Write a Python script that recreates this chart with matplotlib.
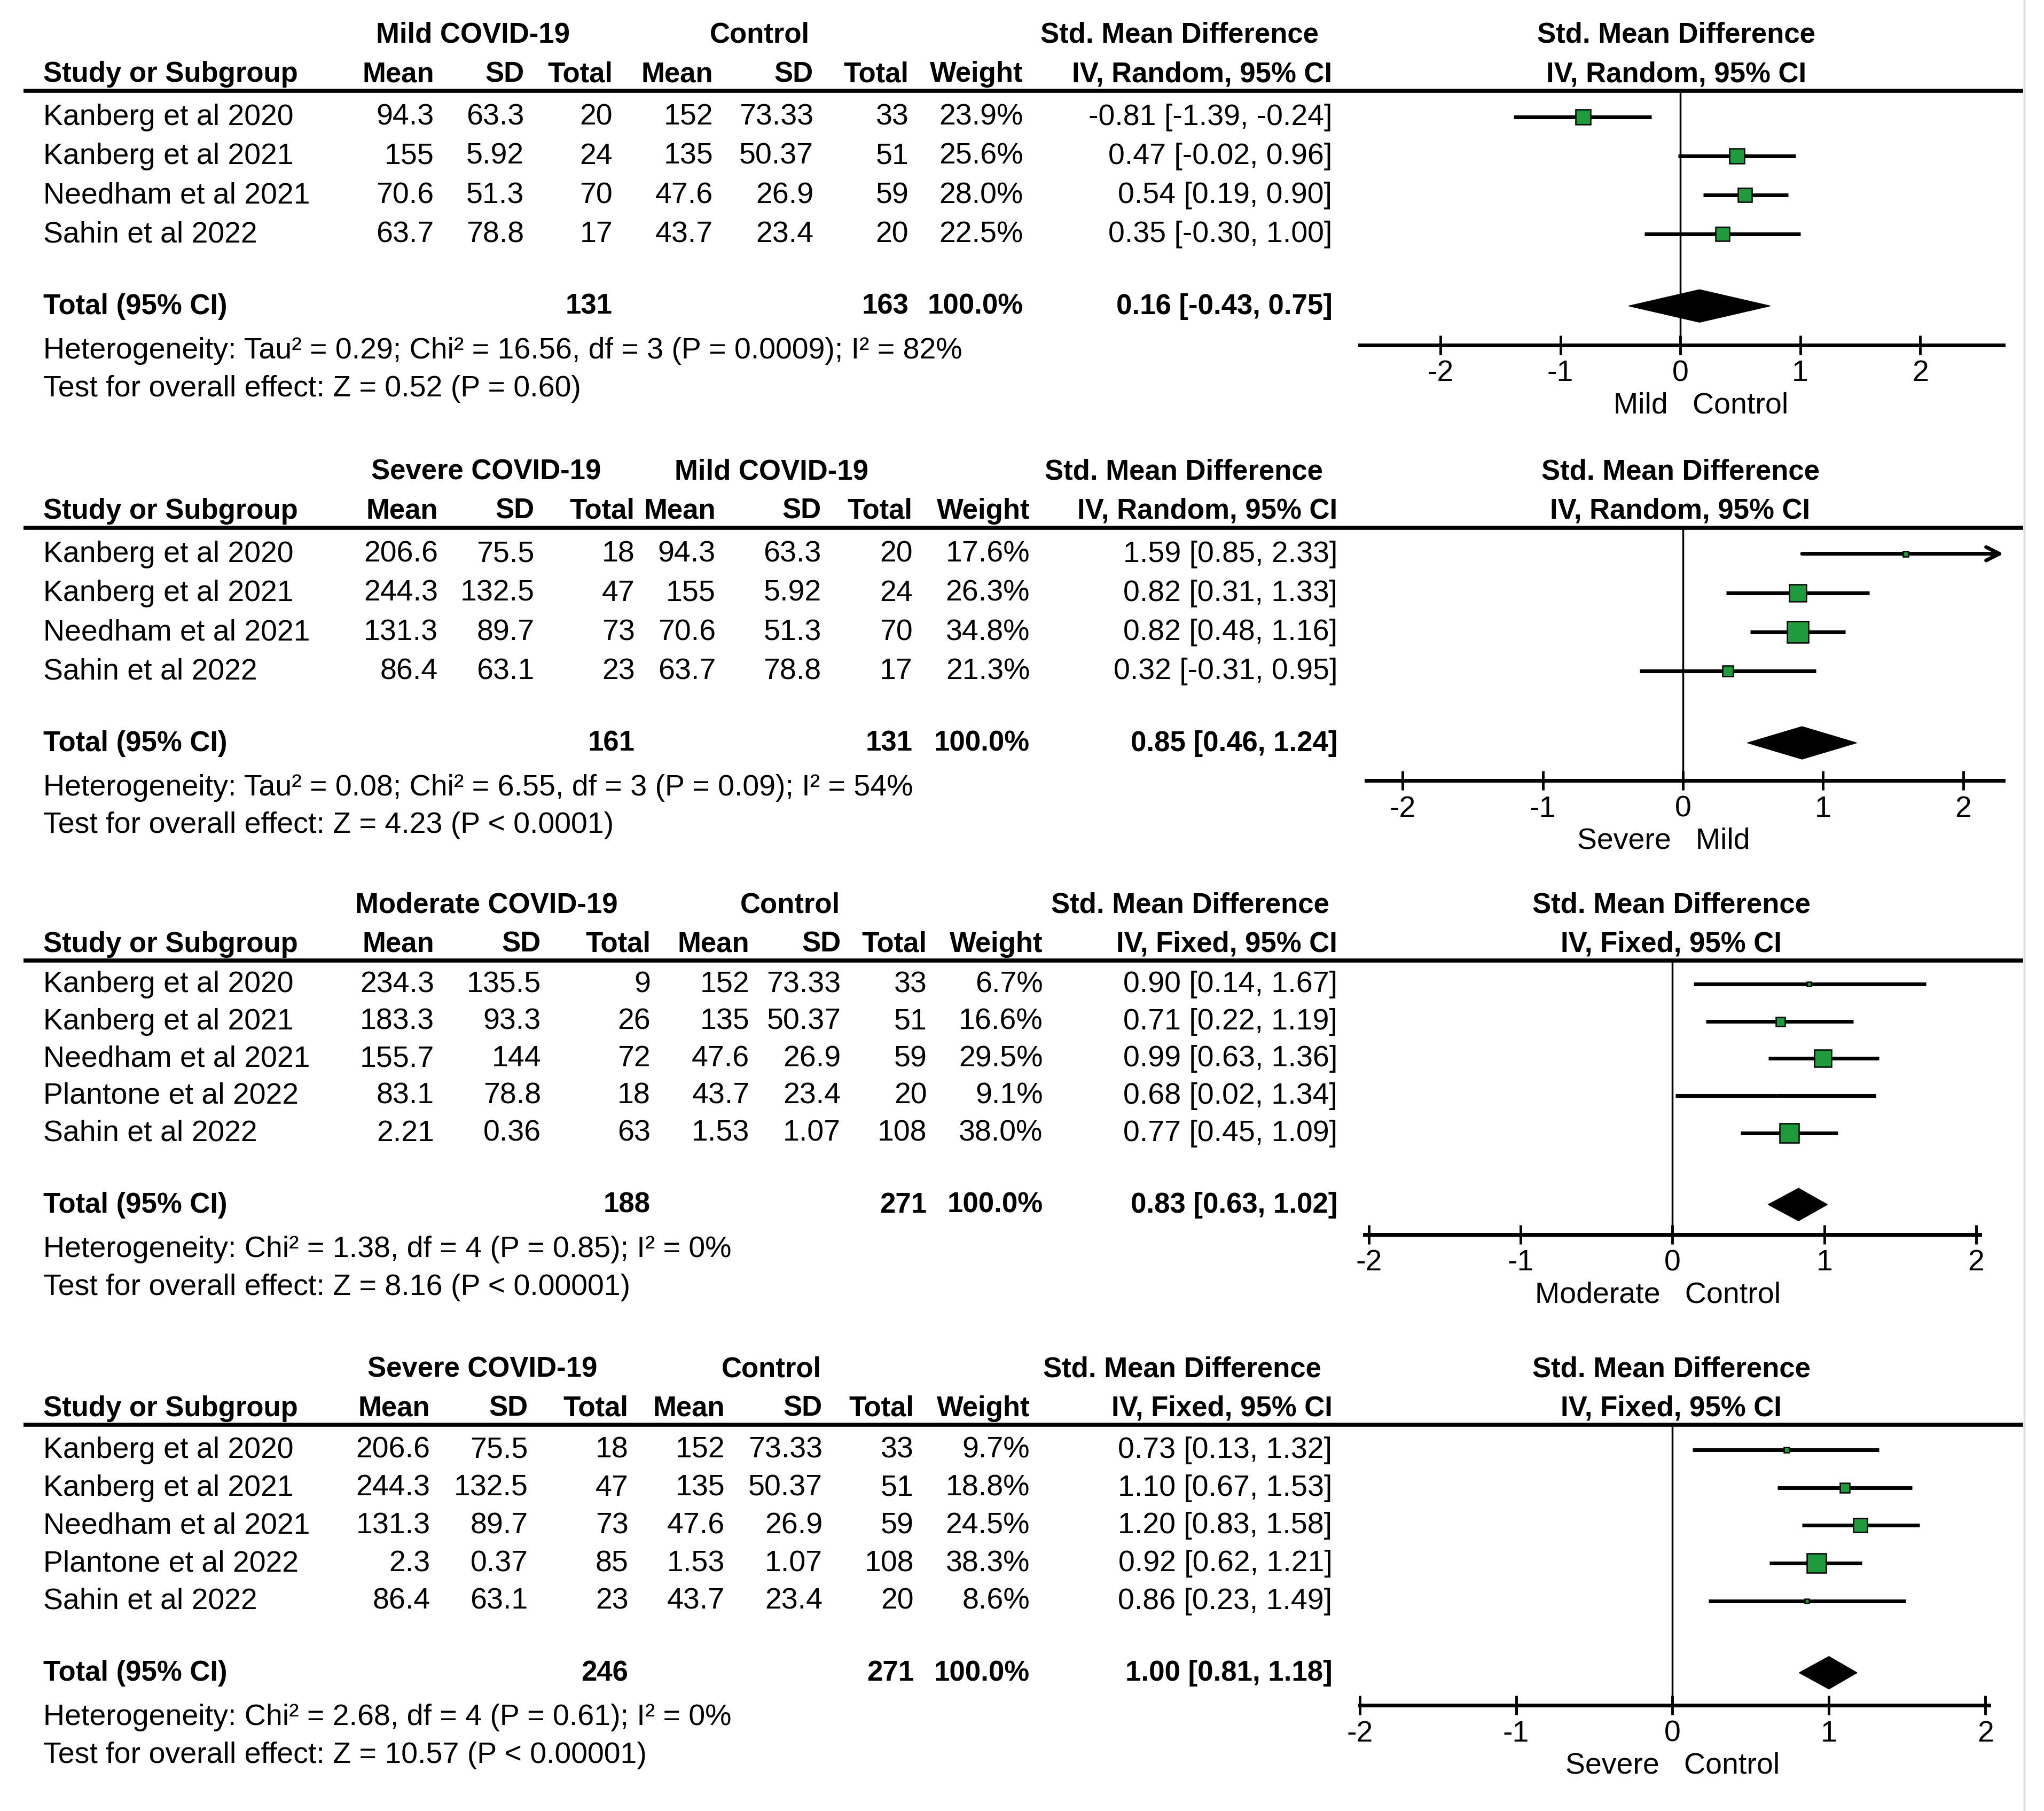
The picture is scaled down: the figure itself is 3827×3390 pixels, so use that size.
import matplotlib
matplotlib.use('Agg')
import matplotlib.pyplot as plt

plt.rcParams['font.family'] = ['Liberation Sans', 'DejaVu Sans']
plt.rcParams['axes.unicode_minus'] = False

W, H = 3827, 3391

# ---------------- data ----------------
# panel 1: mild vs control
p1_study = ['Kanberg et al 2020', 'Kanberg et al 2021', 'Needham et al 2021', 'Sahin et al 2022']
p1_mean_e = [94.3, 155, 70.6, 63.7]
p1_sd_e = [63.3, 5.92, 51.3, 78.8]
p1_n_e = [20, 24, 70, 17]
p1_mean_c = [152, 135, 47.6, 43.7]
p1_sd_c = [73.33, 50.37, 26.9, 23.4]
p1_n_c = [33, 51, 59, 20]
p1_weight = [23.9, 25.6, 28.0, 22.5]
p1_smd = [-0.81, 0.47, 0.54, 0.35]
p1_lo = [-1.39, -0.02, 0.19, -0.30]
p1_hi = [-0.24, 0.96, 0.90, 1.00]
p1_total = [131, 163]
p1_pooled = [0.16, -0.43, 0.75]
p1_groups = ['Mild COVID-19', 'Control']
p1_method = 'Random'
p1_favours = ['Mild', 'Control']
p1_het = 'Heterogeneity: Tau² = 0.29; Chi² = 16.56, df = 3 (P = 0.0009); I² = 82%'
p1_test = 'Test for overall effect: Z = 0.52 (P = 0.60)'

# panel 2: severe vs mild
p2_study = ['Kanberg et al 2020', 'Kanberg et al 2021', 'Needham et al 2021', 'Sahin et al 2022']
p2_mean_e = [206.6, 244.3, 131.3, 86.4]
p2_sd_e = [75.5, 132.5, 89.7, 63.1]
p2_n_e = [18, 47, 73, 23]
p2_mean_c = [94.3, 155, 70.6, 63.7]
p2_sd_c = [63.3, 5.92, 51.3, 78.8]
p2_n_c = [20, 24, 70, 17]
p2_weight = [17.6, 26.3, 34.8, 21.3]
p2_smd = [1.59, 0.82, 0.82, 0.32]
p2_lo = [0.85, 0.31, 0.48, -0.31]
p2_hi = [2.33, 1.33, 1.16, 0.95]
p2_total = [161, 131]
p2_pooled = [0.85, 0.46, 1.24]
p2_groups = ['Severe COVID-19', 'Mild COVID-19']
p2_method = 'Random'
p2_favours = ['Severe', 'Mild']
p2_het = 'Heterogeneity: Tau² = 0.08; Chi² = 6.55, df = 3 (P = 0.09); I² = 54%'
p2_test = 'Test for overall effect: Z = 4.23 (P < 0.0001)'

# panel 3: moderate vs control
p3_study = ['Kanberg et al 2020', 'Kanberg et al 2021', 'Needham et al 2021', 'Plantone et al 2022', 'Sahin et al 2022']
p3_mean_e = [234.3, 183.3, 155.7, 83.1, 2.21]
p3_sd_e = [135.5, 93.3, 144, 78.8, 0.36]
p3_n_e = [9, 26, 72, 18, 63]
p3_mean_c = [152, 135, 47.6, 43.7, 1.53]
p3_sd_c = [73.33, 50.37, 26.9, 23.4, 1.07]
p3_n_c = [33, 51, 59, 20, 108]
p3_weight = [6.7, 16.6, 29.5, 9.1, 38.0]
p3_smd = [0.90, 0.71, 0.99, 0.68, 0.77]
p3_lo = [0.14, 0.22, 0.63, 0.02, 0.45]
p3_hi = [1.67, 1.19, 1.36, 1.34, 1.09]
p3_total = [188, 271]
p3_pooled = [0.83, 0.63, 1.02]
p3_groups = ['Moderate COVID-19', 'Control']
p3_method = 'Fixed'
p3_favours = ['Moderate', 'Control']
p3_het = 'Heterogeneity: Chi² = 1.38, df = 4 (P = 0.85); I² = 0%'
p3_test = 'Test for overall effect: Z = 8.16 (P < 0.00001)'

# panel 4: severe vs control
p4_study = ['Kanberg et al 2020', 'Kanberg et al 2021', 'Needham et al 2021', 'Plantone et al 2022', 'Sahin et al 2022']
p4_mean_e = [206.6, 244.3, 131.3, 2.3, 86.4]
p4_sd_e = [75.5, 132.5, 89.7, 0.37, 63.1]
p4_n_e = [18, 47, 73, 85, 23]
p4_mean_c = [152, 135, 47.6, 1.53, 43.7]
p4_sd_c = [73.33, 50.37, 26.9, 1.07, 23.4]
p4_n_c = [33, 51, 59, 108, 20]
p4_weight = [9.7, 18.8, 24.5, 38.3, 8.6]
p4_smd = [0.73, 1.10, 1.20, 0.92, 0.86]
p4_lo = [0.13, 0.67, 0.83, 0.62, 0.23]
p4_hi = [1.32, 1.53, 1.58, 1.21, 1.49]
p4_total = [246, 271]
p4_pooled = [1.00, 0.81, 1.18]
p4_groups = ['Severe COVID-19', 'Control']
p4_method = 'Fixed'
p4_favours = ['Severe', 'Control']
p4_het = 'Heterogeneity: Chi² = 2.68, df = 4 (P = 0.61); I² = 0%'
p4_test = 'Test for overall effect: Z = 10.57 (P < 0.00001)'

# ---------------- layout (in 1568x1389 reference units) ----------------
layouts = [
    dict(line=70, first=20, pitch=30, axis=265, cols=[333, 402, 470, 547, 624, 697, 785, 1022],
         grp=[363, 583, 905], rhead=1286, ax0=1043, ax1=1537, zero=1289, unit=92, label_x=1305,
         msize=[28, 28, 26, 26]),
    dict(line=405, first=20, pitch=30, axis=599, cols=[336, 410, 487, 549, 630, 700, 790, 1026],
         grp=[373, 592, 908], rhead=1289, ax0=1048, ax1=1537, zero=1291, unit=107.5, label_x=1276,
         msize=[10, 32, 40, 20]),
    dict(line=737, first=18, pitch=28.5, axis=947, cols=[333, 415, 499, 575, 645, 711, 800, 1026],
         grp=[373, 606, 913], rhead=1282, ax0=1047, ax1=1519, zero=1283, unit=116.5, label_x=1272,
         msize=[8, 17, 32, 5, 36]),
    dict(line=1093, first=19, pitch=29, axis=1308, cols=[330, 405, 482, 556, 631, 701, 790, 1022],
         grp=[370, 592, 907], rhead=1282, ax0=1043, ax1=1526, zero=1283, unit=120, label_x=1283,
         msize=[10, 18, 26, 36, 8]),
]

panels = []
for i in range(1, 5):
    g = globals()
    panels.append(dict(study=g['p%d_study' % i], mean_e=g['p%d_mean_e' % i], sd_e=g['p%d_sd_e' % i],
                       n_e=g['p%d_n_e' % i], mean_c=g['p%d_mean_c' % i], sd_c=g['p%d_sd_c' % i],
                       n_c=g['p%d_n_c' % i], weight=g['p%d_weight' % i], smd=g['p%d_smd' % i],
                       lo=g['p%d_lo' % i], hi=g['p%d_hi' % i], total=g['p%d_total' % i],
                       pooled=g['p%d_pooled' % i], groups=g['p%d_groups' % i],
                       method=g['p%d_method' % i], favours=g['p%d_favours' % i],
                       het=g['p%d_het' % i], test=g['p%d_test' % i]))

FS = 40
FSB = 38
GREEN = '#1f9a3d'

fig = plt.figure(figsize=(W / 100.0, H / 100.0), dpi=100)
bg = fig.add_axes([0, 0, 1, 1])
bg.set_xlim(0, 1568)
bg.set_ylim(1389, 0)
bg.axis('off')


def txt(x, y, s, ha='left', bold=False):
    bg.text(x, y, s, ha=ha, va='center', fontsize=FSB if bold else FS,
            fontweight='bold' if bold else 'normal')


def fmt(v):
    return '%g' % v


def ci(v, l, h):
    return '%.2f [%.2f, %.2f]' % (v, l, h)


for d, L in zip(panels, layouts):
    line = L['line']
    c = L['cols']
    n = len(d['study'])
    rows = [line + L['first'] + k * L['pitch'] for k in range(n)]
    y_tot = rows[-1] + 55

    # headers
    txt(L['grp'][0], line - 43, d['groups'][0], ha='center', bold=True)
    txt(L['grp'][1], line - 43, d['groups'][1], ha='center', bold=True)
    txt(L['grp'][2], line - 43, 'Std. Mean Difference', ha='center', bold=True)
    txt(L['rhead'], line - 43, 'Std. Mean Difference', ha='center', bold=True)
    txt(33, line - 13, 'Study or Subgroup', bold=True)
    for x, s in zip(c, ['Mean', 'SD', 'Total', 'Mean', 'SD', 'Total', 'Weight',
                        'IV, %s, 95%% CI' % d['method']]):
        txt(x, line - 13, s, ha='right', bold=True)
    txt(L['rhead'], line - 13, 'IV, %s, 95%% CI' % d['method'], ha='center', bold=True)
    bg.plot([18, 1552], [line, line], color='black', lw=5.5, solid_capstyle='butt')

    # study rows
    for k in range(n):
        y = rows[k]
        txt(33, y, d['study'][k])
        vals = [fmt(d['mean_e'][k]), fmt(d['sd_e'][k]), str(d['n_e'][k]),
                fmt(d['mean_c'][k]), fmt(d['sd_c'][k]), str(d['n_c'][k]),
                '%.1f%%' % d['weight'][k], ci(d['smd'][k], d['lo'][k], d['hi'][k])]
        for x, s in zip(c, vals):
            txt(x, y, s, ha='right')

    # total row
    txt(33, y_tot, 'Total (95% CI)', bold=True)
    txt(c[2], y_tot, str(d['total'][0]), ha='right', bold=True)
    txt(c[5], y_tot, str(d['total'][1]), ha='right', bold=True)
    txt(c[6], y_tot, '100.0%', ha='right', bold=True)
    txt(c[7], y_tot, ci(*d['pooled']), ha='right', bold=True)
    txt(33, y_tot + 34, d['het'])
    txt(33, y_tot + 63, d['test'])

    # forest plot
    ax_y = L['axis']
    fa = fig.add_axes([L['ax0'] / 1568.0, 1 - ax_y / 1389.0,
                       (L['ax1'] - L['ax0']) / 1568.0, (ax_y - line) / 1389.0])
    fa.patch.set_alpha(0)
    xmin = (L['ax0'] - L['zero']) / L['unit']
    xmax = (L['ax1'] - L['zero']) / L['unit']
    fa.set_xlim(xmin, xmax)
    fa.set_ylim(ax_y, line)
    for s in ['top', 'left', 'right']:
        fa.spines[s].set_visible(False)
    fa.spines['bottom'].set_linewidth(5)
    fa.set_yticks([])
    fa.set_xticks([-2, -1, 0, 1, 2])
    fa.tick_params(axis='x', direction='inout', length=26, width=3.5, labelsize=FS, pad=6)
    fa.axvline(0, color='black', lw=2.5)

    for k in range(n):
        y = rows[k]
        if d['hi'][k] > xmax:
            fa.annotate('', xy=(xmax, y), xytext=(d['lo'][k], y),
                        arrowprops=dict(arrowstyle='->', lw=5, color='black', mutation_scale=45,
                                        shrinkA=0, shrinkB=0))
        else:
            fa.plot([d['lo'][k], d['hi'][k]], [y, y], color='black', lw=5, solid_capstyle='butt')
        fa.plot(d['smd'][k], y, marker='s', ms=L['msize'][k] * 0.72, mfc=GREEN, mec='black',
                mew=1.8, zorder=3)

    est, plo, phi = d['pooled']
    hh = 12.5
    fa.fill([plo, est, phi, est], [y_tot, y_tot - hh, y_tot, y_tot + hh], color='black', zorder=3)

    txt(L['label_x'], ax_y + 46, '%s   %s' % (d['favours'][0], d['favours'][1]), ha='center')

bg.plot([1553, 1553], [0, 1389], color='#dcdcdc', lw=2.5)

fig.savefig('out.png', dpi=100)
